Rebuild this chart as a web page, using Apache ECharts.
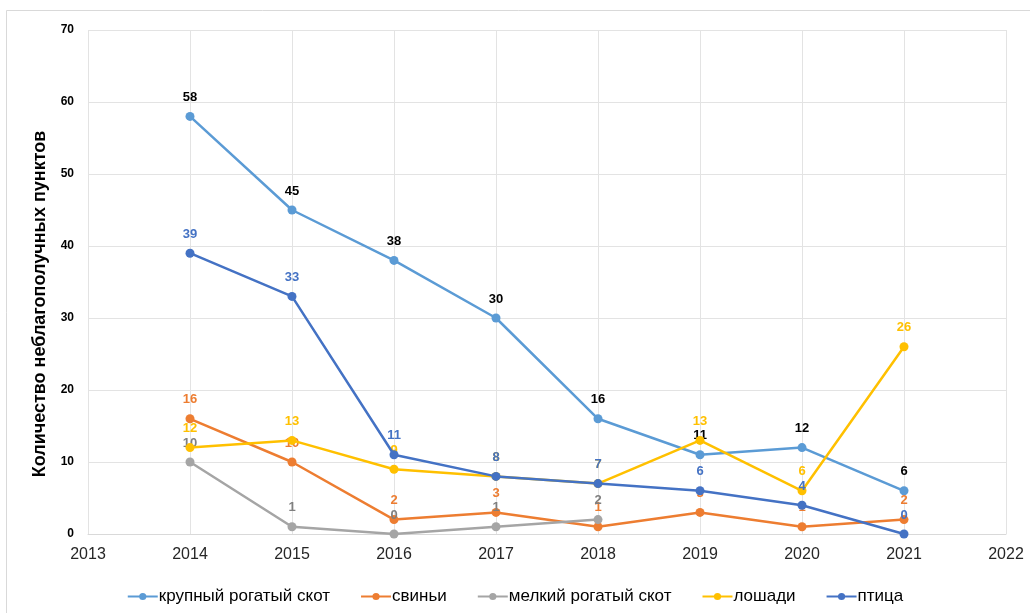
<!DOCTYPE html>
<html>
<head>
<meta charset="utf-8">
<script src="https://cdn.jsdelivr.net/npm/echarts@6/dist/echarts.min.js"></script>
<style>
  html, body { margin: 0; padding: 0; background: #fff; }
  #chart { width: 1030px; height: 613px; }
</style>
</head>
<body>
<div id="chart"></div>
<script>
// Годы и значения по видам животных
const years = [2014, 2015, 2016, 2017, 2018, 2019, 2020, 2021];
const cattle = [58, 45, 38, 30, 16, 11, 12, 6];
const pigs = [16, 10, 2, 3, 1, 3, 1, 2];
const smallRuminants = [10, 1, 0, 1, 2, null, null, null];
const horses = [12, 13, 9, 8, 7, 13, 6, 26];
const poultry = [39, 33, 11, 8, 7, 6, 4, 0];

const seriesNames = ['крупный рогатый скот', 'свиньи', 'мелкий рогатый скот', 'лошади', 'птица'];
const yAxisTitle = 'Количество неблагополучных пунктов';

const lineColors = ['#5B9BD5', '#ED7D31', '#A5A5A5', '#FFC000', '#4472C4'];
const labelColors = ['#000000', '#ED7D31', '#7F7F7F', '#FFC000', '#4472C4'];
const allValues = [cattle, pigs, smallRuminants, horses, poultry];

const font = '"Liberation Sans", Arial, sans-serif';

function toPairs(vals) {
  const out = [];
  vals.forEach((v, i) => { if (v !== null) out.push([years[i], v]); });
  return out;
}

const series = seriesNames.map((name, k) => ({
  name: name,
  type: 'line',
  data: toPairs(allValues[k]),
  symbol: 'circle',
  symbolSize: 9,
  lineStyle: { width: 2.5, color: lineColors[k] },
  itemStyle: { color: lineColors[k] },
  label: {
    show: true,
    position: 'top',
    distance: 8,
    color: labelColors[k],
    fontFamily: font,
    fontWeight: 'bold',
    fontSize: 13,
    formatter: p => p.value[1]
  },
  labelLayout: { hideOverlap: false },
  z: 2 + k
}));

const chart = echarts.init(document.getElementById('chart'));
chart.setOption({
  animation: false,
  backgroundColor: '#ffffff',
  grid: { left: 88, right: 24, top: 30, bottom: 79, containLabel: false },
  xAxis: {
    type: 'value',
    min: 2013,
    max: 2022,
    interval: 1,
    axisLine: { show: true, lineStyle: { color: '#D9D9D9', width: 1 } },
    axisTick: { show: false },
    splitLine: { show: true, lineStyle: { color: '#E3E3E3', width: 1 } },
    axisLabel: { color: '#262626', fontSize: 16, fontFamily: font, margin: 13, formatter: v => String(v) }
  },
  yAxis: {
    type: 'value',
    min: 0,
    max: 70,
    interval: 10,
    axisLine: { show: false },
    axisTick: { show: false },
    splitLine: { show: true, lineStyle: { color: '#E3E3E3', width: 1 } },
    axisLabel: { color: '#000000', fontSize: 12, fontWeight: 'bold', fontFamily: font, margin: 14 }
  },
  legend: {
    data: seriesNames,
    bottom: 3,
    left: 'center',
    itemWidth: 30,
    itemHeight: 9,
    itemGap: 30,
    textStyle: { color: '#000000', fontSize: 17, fontFamily: font, padding: [0, 0, 0, -4] }
  },
  graphic: [
    {
      type: 'rect',
      shape: { x: 6.5, y: 10.5, width: 1040, height: 620 },
      style: { fill: 'none', stroke: '#D9D9D9', lineWidth: 1 },
      silent: true
    },
    {
      type: 'text',
      x: 40,
      y: 304,
      rotation: Math.PI / 2,
      style: {
        text: yAxisTitle,
        fill: '#000000',
        font: 'bold 18px ' + font,
        align: 'center',
        verticalAlign: 'middle'
      }
    }
  ],
  series: series
});
</script>
</body>
</html>
